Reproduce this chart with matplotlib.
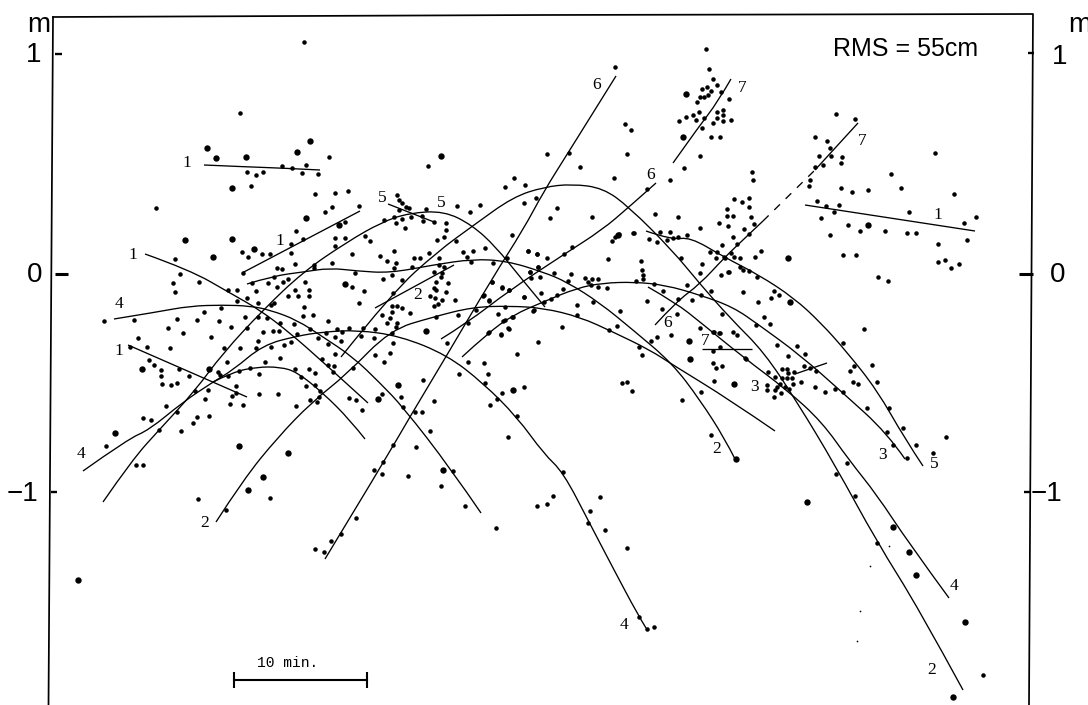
import numpy as np
import matplotlib.pyplot as plt
from matplotlib.path import Path
from matplotlib.patches import PathPatch

# digitised readings (scan px, converted below)
big_dots = [(207,148),(216,158),(246,157),(297,152),(310,141),(441,156),(232,188),(306,218),(339,225),
(185,240),(232,239),(254,249),(213,257),(345,284),(426,331),(142,369),(209,369),(398,385),(378,399),
(115,433),(239,446),(288,453),(263,477),(248,490),(78,580),(513,390),(618,235),(689,341),(690,359),
(683,137),(686,94),(788,258),(790,302),(868,225),(734,384),(736,459),(807,502),(893,527),(909,552),
(916,575),(965,622),(953,697),(443,470)]
small_nw = [(304,42),(240,113),(329,157),(428,166),(247,172),(256,175),(263,172),(282,166),(292,168),
(306,165),(302,173),(318,174),(251,186),(315,194),(335,193),(348,191),(156,208),(359,206),(332,207),
(325,212),(296,231),(345,222),(303,239),(335,238),(345,238),(291,244),(335,246),(242,252),(248,257),
(262,254),(270,254),(291,253),(175,259),(295,264),(352,254),(365,236),(370,241),(384,220),(394,217),
(402,219),(396,223),(411,217),(422,216),(423,221),(434,222),(405,228),(397,195),(399,200),(402,203),
(406,207),(409,208),(399,210),(426,209),(457,206),(470,212),(480,205),(505,187),(514,178),(525,185),
(524,203),(536,198),(512,235),(446,223),(446,230),(444,237),(437,240),(456,241),(485,248),(473,251),
(463,252),(467,257),(471,262),(429,253),(394,251),(380,256),(387,261),(414,258),(420,258),(396,263),
(394,268),(412,267),(439,258),(528,251),(537,254),(493,263),(530,272),(538,267),(507,258),(439,265),
(444,267),(434,272),(442,273)]
small_w = [(392,275),(383,279),(402,280),(355,273),(332,263),(314,265),(314,268),(277,268),(282,269),
(243,273),(180,274),(173,283),(175,292),(199,282),(252,283),(256,291),(268,283),(274,277),(277,287),
(283,282),(288,279),(228,290),(237,290),(247,298),(258,303),(237,301),(274,303),(271,305),(288,296),
(295,290),(298,296),(305,282),(309,290),(309,296),(352,287),(364,291),(359,303),(304,307),(303,316),
(313,315),(328,321),(393,293),(392,306),(397,306),(402,308),(392,312),(410,313),(382,315),(387,323),
(390,318),(397,323),(396,327),(436,282),(434,288),(436,290),(448,283),(446,292),(430,296),(435,298),
(442,300),(438,304),(434,306),(455,300),(441,277),(492,282),(484,295),(489,300),(502,287),(509,290),
(524,297),(476,310),(498,314),(505,320),(512,317),(458,315),(436,317),(508,328),(501,334),(489,332),
(468,323),(534,310),(538,342),(447,343),(393,343),(392,333),(375,329),(374,338),(363,328),(361,336),
(349,328),(342,332),(337,329),(335,337),(326,333),(341,341),(328,344),(318,338),(310,329),(297,334),
(294,324),(280,323),(273,331),(279,331),(263,332),(267,318),(258,317),(247,328),(258,341),(245,317),
(231,327),(219,321),(211,337),(204,312),(221,308),(197,320),(177,319),(168,328),(183,333),(134,320),
(104,321),(138,338),(147,347),(170,348),(130,347),(240,348),(224,348),(256,348),(284,345),(291,342),
(271,347)]
small_sw = [(149,360),(154,365),(161,370),(161,376),(162,384),(171,385),(177,383),(179,369),(189,376),
(227,362),(218,372),(220,375),(228,376),(239,371),(250,368),(259,374),(265,362),(280,358),(295,369),
(309,369),(315,373),(301,377),(306,386),(315,385),(322,359),(328,365),(334,366),(333,372),(335,354),
(353,368),(375,355),(384,362),(390,353),(423,380),(401,397),(382,394),(349,398),(356,400),(362,410),
(403,407),(415,412),(422,412),(434,401),(430,431),(416,447),(408,476),(441,486),(465,506),(496,528),
(537,506),(453,471),(382,474),(383,462),(374,470),(393,445),(356,518),(341,534),(331,541),(324,552),
(315,549),(198,499),(226,510),(270,498),(136,465),(143,465),(106,446),(143,418),(151,420),(159,430),
(177,412),(181,431),(193,423),(197,417),(209,416),(166,406),(195,391),(208,390),(205,399),(232,396),
(236,393),(230,404),(243,405),(236,386),(259,394),(278,394),(296,406),(310,400),(317,402),(319,397),
(320,391)]
small_mid = [(468,362),(484,363),(459,374),(488,374),(485,383),(524,387),(502,393),(497,399),(490,405),
(517,354),(517,416),(508,437),(562,327),(577,305),(577,315),(593,302),(617,326),(609,330),(620,311),
(622,383),(627,382),(632,391),(639,347),(642,355),(651,341),(657,337),(671,335),(701,392),(682,400),
(711,435),(714,381),(713,363),(716,368),(722,366),(713,351),(720,347),(720,333),(713,332),(700,328),
(722,314),(677,314),(662,309),(647,301),(678,299),(692,300),(663,291),(687,285),(701,295),(711,291),
(654,284),(636,281),(642,270),(643,275),(643,279),(607,288),(598,287),(598,279),(592,279),(585,278),
(588,282),(591,285),(568,281),(563,289),(557,295),(551,299),(544,302),(541,293),(524,297),(571,274),
(554,273),(538,267),(540,277),(531,278),(530,272),(547,258),(537,254),(528,251),(564,254),(572,247),
(608,259),(641,261),(612,241),(633,233),(649,239),(657,242),(667,240),(673,238),(678,237),(660,232),
(670,232),(687,235),(681,258),(702,264),(722,245),(710,252),(725,258),(728,272),(721,275),(716,258),
(700,273),(509,290),(502,288),(489,301),(483,296),(492,282),(505,307),(513,317),(503,321),(509,329),
(501,335),(488,333),(533,311)]
small_ne = [(706,49),(709,69),(615,67),(713,79),(717,85),(721,92),(729,99),(702,89),(707,87),(711,91),
(700,97),(704,97),(708,95),(697,102),(723,110),(717,112),(723,115),(699,112),(679,121),(686,117),
(693,115),(696,120),(704,118),(717,118),(723,121),(731,120),(713,123),(702,128),(711,137),(720,137),
(700,156),(684,168),(670,180),(625,124),(631,130),(627,154),(547,154),(569,153),(580,167),(614,178),
(647,189),(655,214),(678,217),(592,217),(557,208),(550,218),(700,228),(619,234),(615,237),(634,233),
(752,172),(753,180),(734,199),(742,202),(749,198),(749,207),(727,209),(727,216),(733,216),(719,223),
(728,226),(751,217),(754,224),(744,229),(749,234),(733,237),(737,244),(717,252),(731,253),(734,257),
(724,257),(740,258),(761,251),(755,257),(740,267),(743,270),(749,271),(729,272),(757,277),(743,292),
(758,302),(774,291),(771,298),(779,295),(764,317),(770,324),(756,325),(714,332),(719,333),(733,332),
(737,335),(864,329),(843,343)]
small_e = [(836,114),(855,119),(815,137),(827,141),(830,148),(819,156),(831,156),(842,157),(841,163),
(815,167),(823,165),(810,180),(809,186),(841,188),(852,192),(868,190),(891,174),(901,188),(935,153),
(954,194),(817,201),(826,206),(839,205),(834,212),(821,218),(848,225),(860,231),(885,231),(909,212),
(907,233),(916,233),(964,223),(976,217),(967,240),(938,244),(830,235),(843,255),(856,255),(938,262),
(945,260),(951,268),(959,264),(878,277),(888,281)]
small_se = [(777,345),(797,346),(788,356),(805,354),(745,358),(746,359),(782,369),(787,369),(794,372),
(792,378),(793,384),(789,389),(781,393),(775,390),(780,384),(787,378),(782,378),(775,377),(768,372),
(767,385),(767,390),(774,397),(801,382),(785,387),(788,373),(777,387),(804,366),(810,368),(816,371),
(815,387),(825,392),(835,389),(843,392),(850,371),(854,366),(872,365),(853,382),(858,384),(877,382),
(889,408),(867,408),(887,432),(903,428),(946,437),(916,445),(933,453),(907,458),(893,445),(847,463),
(836,474),(855,496),(877,543),(983,675),(563,472),(553,496),(547,504),(600,497),(590,511),(588,523),
(605,530),(627,548),(639,617),(647,629),(654,627)]
specks = [(860,611),(870,566),(889,546),(857,641)]

# fitted curves
curve_4a = [(83,471),(128,439),(149,430),(183,402),(213,382),(233,370),(263,345),(297,336),(323,332),(357,330),
(400,336),(447,355),(483,383),(517,417),(544,454),(563,472),(589,522),(613,568),(638,615),(646,628)]
curve_5a = [(103,502),(132,460),(160,429),(194,392),(223,353),(263,310),(303,272),(347,242),(382,222),(409,213),
(444,211),(472,225),(496,247),(520,277),(545,307)]
curve_4b = [(114,319),(157,312),(190,306),(223,305),(250,306),(270,310),(297,320),(323,337),(353,357),(380,383),
(403,407),(451,469),(481,513)]
curve_1a = [(145,254),(190,270),(230,293),(260,310),(290,333),(323,362),(368,403)]
curve_arch = [(213,382),(233,372),(257,367),(280,367),(297,372),(323,393),(350,420),(365,439)]
curve_2a = [(216,522),(243,480),(278,437),(312,402),(347,374),(390,330),(433,317),(473,307),(510,306),(543,308),
(580,317),(613,332),(650,350),(673,365),(730,400),(775,431)]
curve_2b = [(247,284),(273,276),(303,272),(330,268),(357,271),(390,273),(433,265),(473,259),(507,261),(543,272),
(567,282),(600,303),(633,330),(672,363),(700,400),(725,439),(735,459)]
curve_2c = [(341,357),(392,293),(437,252),(474,225),(513,197),(544,187),(572,184),(603,188),(629,207),(672,250),
(700,284),(731,319),(764,352),(797,402),(835,465),(877,542),(919,609),(963,690)]
curve_3 = [(462,357),(488,333),(513,315),(543,302),(577,288),(603,283),(634,282),(665,285),(700,295),(733,307),
(759,325),(800,355),(843,393),(887,433),(905,459)]
curve_5b = [(646,231),(672,240),(690,237),(724,257),(759,275),(794,298),(821,323),(846,351),(877,390),(905,439),(923,466)]
curve_4c = [(648,287),(676,303),(700,322),(743,357),(787,390),(822,422),(849,460),(877,495),(908,542),(949,598)]
line_6a = [(325,559),(382,465),(411,415),(447,355),(493,277),(523,230),(544,191),(568,153),(616,76)]
line_6b = [(441,339),(467,323),(510,290),(563,255),(602,230),(629,207),(656,183)]
line_7a = [(673,163),(700,125),(717,103),(731,79)]
line_7b = [(655,325),(676,302),(700,284),(724,258),(745,238),(763,221)]
line_7b_dash = [(763,221),(815,170)]
line_7c = [(815,170),(858,123)]
straight = [[(204,165),(250,167),(280,168),(320,170)],[(242,273),(360,211)],[(128,345),(247,397)],
[(388,204),(434,222)],[(375,308),(454,265)],[(805,205),(975,231)],[(702,349),(752,349)],[(795,374),(827,363)]]

curve_labels = ['1','1','1','4','1','5','5','2','4','2','6','6','6','7','7','1','7','3','2','3','5','4','2','4']
curve_label_pos = [(187,163),(280,241),(133,255),(119,304),(119,351),(382,198),(441,203),(418,295),(81,454),
(205,523),(597,85),(651,175),(668,323),(742,88),(862,141),(938,215),(705,341),(754,387),(717,449),(882,455),
(934,464),(954,586),(932,670),(624,625)]

frame_line = [(53,17),(540,15),(1033,14),(1029,705)]
frame_left = [(53,17),(48.5,705)]
tick_marks = [[(55,54),(62,54)],[(55,274),(68,274)],[(51,492),(57,492)],[(1028,53),(1034,53)],
[(1019,274),(1033,274)],[(1024,492),(1030,492)]]
tick_values = ['1','0','\u22121','1','0','\u22121']
tick_label_pos = [(34,55),(35,275),(22,494),(1060,57),(1058,275),(1046,494)]
unit_pos = [(39,25),(1080,25)]
bar_ends = [(234,680),(367,680)]

px0, py0 = 234.0, 274.0
px_per_min, px_per_m = 13.3, 218.5

def to_min(v):
    return (np.asarray(v, dtype=float)-px0)/px_per_min

def to_m(v):
    return (py0-np.asarray(v, dtype=float))/px_per_m

def xy(pts):
    a = np.array(pts, dtype=float)
    return to_min(a[:,0]), to_m(a[:,1])

def draw_curve(ax, pts):
    # quadratic segments through the midpoints, keeps the pen curve smooth
    x, y = xy(pts)
    p = np.column_stack([x, y])
    verts = [p[0]]
    codes = [Path.MOVETO]
    for i in range(1, len(p)-1):
        end = p[i+1] if i == len(p)-2 else (p[i]+p[i+1])/2
        verts += [p[i], end]
        codes += [Path.CURVE3, Path.CURVE3]
    if len(p) == 2:
        verts.append(p[1])
        codes.append(Path.LINETO)
    ax.add_patch(PathPatch(Path(verts, codes), fill=False, edgecolor='k', lw=0.95, capstyle='butt'))

fig = plt.figure(figsize=(10.88,7.05), dpi=100)
ax = fig.add_axes([0,0,1,1])
ax.set_xlim(to_min(0), to_min(1088))
ax.set_ylim(to_m(705), to_m(0))
ax.axis('off')

for c in [curve_4a,curve_5a,curve_4b,curve_1a,curve_arch,curve_2a,curve_2b,curve_2c,curve_3,curve_5b,curve_4c,
          line_6a,line_6b,line_7a,line_7b,line_7c]:
    draw_curve(ax, c)
for s in straight:
    draw_curve(ax, s)
x, y = xy(line_7b_dash)
ax.plot(x, y, color='k', lw=0.95, dashes=(6,6))

small = small_nw+small_w+small_sw+small_mid+small_ne+small_e+small_se
x, y = xy(small)
ax.scatter(x, y, s=10.5, color='k', linewidths=0, zorder=3)
x, y = xy(big_dots)
ax.scatter(x, y, s=21, color='k', linewidths=0, zorder=3)
x, y = xy(specks)
ax.scatter(x, y, s=1.5, color='k', linewidths=0, zorder=3)

for t, p in zip(curve_labels, curve_label_pos):
    ax.text(to_min(p[0]), to_m(p[1]), t, family='Liberation Serif', fontsize=12.5, ha='center', va='center')

for f in [frame_line, frame_left]:
    x, y = xy(f)
    ax.plot(x, y, color='k', lw=1.25, clip_on=False)
for i, m in enumerate(tick_marks):
    x, y = xy(m)
    ax.plot(x, y, color='k', lw=2.2 if i in (1,4) else 1.7, solid_capstyle='butt')
for t, p in zip(tick_values, tick_label_pos):
    ax.text(to_min(p[0]), to_m(p[1]), t, family='Liberation Sans', fontsize=20, ha='center', va='center')
for p in unit_pos:
    ax.text(to_min(p[0]), to_m(p[1]), 'm', family='Liberation Sans', fontsize=20, ha='center', va='center')

ax.text(to_min(906), to_m(49), 'RMS = 55cm', family='Liberation Sans', fontsize=18, ha='center', va='center')

x, y = xy(bar_ends)
ax.plot(x, y, color='k', lw=1.5, marker='|', ms=12, mew=1.5)
ax.text(to_min(288), to_m(663), '10 min.', family='Liberation Mono', fontsize=10.5, ha='center', va='center')

fig.savefig('out.png', dpi=100)
